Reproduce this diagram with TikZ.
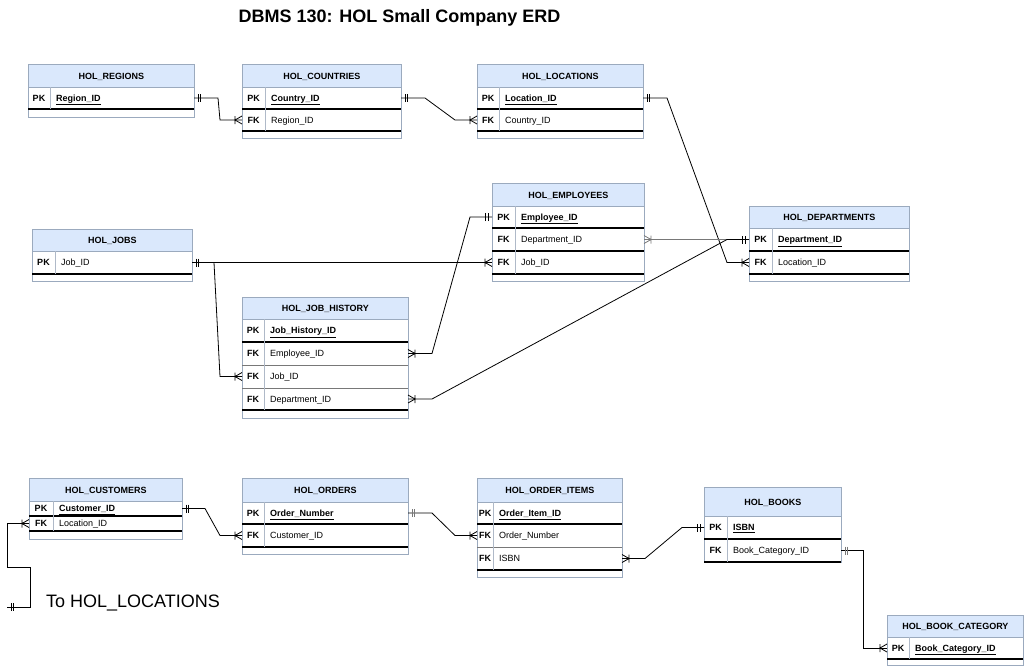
\documentclass[tikz,border=0pt]{standalone}
\usepackage{fontspec}
\setmainfont{Liberation Sans}
\usetikzlibrary{calc}
\definecolor{hdrc}{HTML}{DAE8FC}
\definecolor{bordc}{RGB}{155,170,190}
\definecolor{divc}{RGB}{175,185,200}
\definecolor{grayline}{RGB}{120,120,120}
\tikzset{
  hdr/.style={draw=bordc, fill=hdrc, line width=0.8pt, anchor=north west, inner sep=0pt, font=\bfseries\fontsize{9}{10}\selectfont},
  rowbox/.style={anchor=north west, inner sep=0pt, outer sep=0pt},
  keytext/.style={font=\bfseries\fontsize{9}{10}\selectfont, inner sep=0pt, text height=7.5pt, text depth=1pt},
  fieldtext/.style={font=\fontsize{9}{10}\selectfont, anchor=west, inner sep=0pt, text height=7.5pt, text depth=1pt},
  tborder/.style={draw=bordc, line width=0.8pt},
  sepk/.style={draw=black, line width=1.2pt},
  sepg/.style={draw=grayline, line width=0.6pt},
  divl/.style={draw=divc, line width=0.7pt},
  conn/.style={draw=black, line width=0.8pt},
  mone/.pic={\draw[line width=0.8pt] (4,-4)--(4,4) (6.5,-4)--(6.5,4);},
  mmany/.pic={\draw[line width=0.8pt] (0,-4)--(7,0)--(0,4) (7,-4)--(7,4);},
}
\newcommand\pkfield[1]{\textbf{\underline{#1}}}
\newcommand\ertab[7]{%
  \draw[tborder] (#2,#3) rectangle (#2+#4,#6);
  \node[hdr, minimum width=#4, minimum height=#5, text height=7.5pt, text depth=1pt] (#1) at (#2,#3) {#7};
}
\newcommand\errow[9]{%
  \node[rowbox, minimum width=#4, minimum height=#5] (#1) at (#2,#3) {};
  \node[keytext] at ($(#1.west)+(#6/2,0)$) {#7};
  \node[fieldtext] at ($(#1.west)+(#6+6,0)$) {#8};
  \draw[#9] (#1.south west) -- (#1.south east);
  \draw[divl] ($(#1.north west)+(#6,0)$) -- ($(#1.south west)+(#6,0)$);
}
\begin{document}
\begin{tikzpicture}[x=1pt,y=-1pt]
\useasboundingbox (0,0) rectangle (1024,670);
\fill[white] (0,0) rectangle (1024,670);

\node[font=\bfseries\fontsize{18}{20}\selectfont, anchor=base] (title) at (399.5,22.5) {DBMS 130: HOL Small Company ERD};
\node[font=\fontsize{18}{20}\selectfont, anchor=base] (tolab) at (133,607) {To HOL\_LOCATIONS};

% REGIONS
\ertab{reg}{28}{64}{166}{23}{117}{HOL\_REGIONS}
\errow{reg-pk}{28}{87}{166}{22}{22}{PK}{\pkfield{Region\_ID}}{sepk}
% COUNTRIES
\ertab{cty}{242}{64}{159}{23}{138}{HOL\_COUNTRIES}
\errow{cty-pk}{242}{87}{159}{22}{23}{PK}{\pkfield{Country\_ID}}{sepk}
\errow{cty-fk}{242}{109}{159}{22}{23}{FK}{Region\_ID}{sepk}
% LOCATIONS
\ertab{loc}{477}{64}{166}{23}{138}{HOL\_LOCATIONS}
\errow{loc-pk}{477}{87}{166}{22}{22}{PK}{\pkfield{Location\_ID}}{sepk}
\errow{loc-fk}{477}{109}{166}{22}{22}{FK}{Country\_ID}{sepk}
% JOBS
\ertab{job}{32}{229}{160}{22}{281}{HOL\_JOBS}
\errow{job-pk}{32}{251}{160}{23}{23}{PK}{Job\_ID}{sepk}
% EMPLOYEES
\ertab{emp}{492}{183}{152}{23}{281}{HOL\_EMPLOYEES}
\errow{emp-pk}{492}{206}{152}{22}{23}{PK}{\pkfield{Employee\_ID}}{sepk}
\errow{emp-dept}{492}{228}{152}{23}{23}{FK}{Department\_ID}{sepk}
\errow{emp-job}{492}{251}{152}{23}{23}{FK}{Job\_ID}{sepk}
% DEPARTMENTS
\ertab{dept}{749}{206}{160}{22}{281}{HOL\_DEPARTMENTS}
\errow{dept-pk}{749}{228}{160}{23}{23}{PK}{\pkfield{Department\_ID}}{sepk}
\errow{dept-fk}{749}{251}{160}{23}{23}{FK}{Location\_ID}{sepk}
% JOB HISTORY
\ertab{jh}{242}{297}{166}{22}{418}{HOL\_JOB\_HISTORY}
\errow{jh-pk}{242}{319}{166}{23}{22}{PK}{\pkfield{Job\_History\_ID}}{sepk}
\errow{jh-emp}{242}{342}{166}{23}{22}{FK}{Employee\_ID}{sepg}
\errow{jh-job}{242}{365}{166}{23}{22}{FK}{Job\_ID}{sepg}
\errow{jh-dept}{242}{388}{166}{22}{22}{FK}{Department\_ID}{sepk}
% CUSTOMERS
\ertab{cus}{29}{478}{153}{23}{539}{HOL\_CUSTOMERS}
\errow{cus-pk}{29}{501}{153}{15}{24}{PK}{\pkfield{Customer\_ID}}{sepk}
\errow{cus-fk}{29}{516}{153}{15}{24}{FK}{Location\_ID}{sepk}
% ORDERS
\ertab{ord}{242}{478}{166}{24}{554}{HOL\_ORDERS}
\errow{ord-pk}{242}{502}{166}{22}{22}{PK}{\pkfield{Order\_Number}}{sepk}
\errow{ord-fk}{242}{524}{166}{23}{22}{FK}{Customer\_ID}{sepk}
% ORDER ITEMS
\ertab{oi}{477}{478}{145}{24}{577}{HOL\_ORDER\_ITEMS}
\errow{oi-pk}{477}{502}{145}{22}{16}{PK}{\pkfield{Order\_Item\_ID}}{sepk}
\errow{oi-ord}{477}{524}{145}{23}{16}{FK}{Order\_Number}{sepg}
\errow{oi-isbn}{477}{547}{145}{23}{16}{FK}{ISBN}{sepk}
% BOOKS
\ertab{bk}{704}{487}{137}{29}{562}{HOL\_BOOKS}
\errow{bk-pk}{704}{516}{137}{23}{23}{PK}{\pkfield{ISBN}}{sepk}
\errow{bk-fk}{704}{539}{137}{23}{23}{FK}{Book\_Category\_ID}{sepk}
% BOOK CATEGORY
\ertab{bc}{887}{615}{136}{22}{665}{HOL\_BOOK\_CATEGORY}
\errow{bc-pk}{887}{637}{136}{22}{22}{PK}{\pkfield{Book\_Category\_ID}}{sepk}

% connectors
\draw[conn] (reg-pk.east) -- ++(24,0) -- ($(cty-fk.west)+(-22,0)$) -- (cty-fk.west);
\pic at (reg-pk.east) {mone}; \pic[rotate=180] at (cty-fk.west) {mmany};

\draw[conn] (cty-pk.east) -- ++(24,0) -- ($(loc-fk.west)+(-22,0)$) -- (loc-fk.west);
\pic at (cty-pk.east) {mone}; \pic[rotate=180] at (loc-fk.west) {mmany};

\draw[conn] (loc-pk.east) -- ++(24,0) -- ($(dept-fk.west)+(-22,0)$) -- (dept-fk.west);
\pic at (loc-pk.east) {mone}; \pic[rotate=180] at (dept-fk.west) {mmany};

\draw[conn] (job-pk.east) -- (emp-job.west);
\draw[conn] (job-pk.east) -- ++(22,0) -- ($(jh-job.west)+(-22,0)$) -- (jh-job.west);
\pic at (job-pk.east) {mone}; \pic[rotate=180] at (emp-job.west) {mmany};
\pic[rotate=180] at (jh-job.west) {mmany};

\draw[conn] (jh-emp.east) -- ++(24,0) -- ($(emp-pk.west)+(-22,0)$) -- (emp-pk.west);
\pic at (jh-emp.east) {mmany}; \pic[rotate=180] at (emp-pk.west) {mone};

\draw[conn, draw=grayline] (emp-dept.east) -- (dept-pk.west);
\pic[grayline] at (emp-dept.east) {mmany}; \pic[rotate=180] at (dept-pk.west) {mone};

\draw[conn] (jh-dept.east) -- ++(24,0) -- ($(dept-pk.west)+(-22,0)$) -- (dept-pk.west);
\pic at (jh-dept.east) {mmany};

\draw[conn] (cus-pk.east) -- ++(23,0) -- ($(ord-fk.west)+(-22,0)$) -- (ord-fk.west);
\pic at (cus-pk.east) {mone}; \pic[rotate=180] at (ord-fk.west) {mmany};

\coordinate (lochint) at (7,607);
\draw[conn] (cus-fk.west) -- ++(-22,0) -- ++(0,43.5) -- ++(23,0) |- (lochint);
\pic[rotate=180] at (cus-fk.west) {mmany}; \pic at (lochint) {mone};

\draw[conn] (ord-pk.east) -- ++(24,0) -- ($(oi-ord.west)+(-22,0)$) -- (oi-ord.west);
\pic[grayline] at (ord-pk.east) {mone}; \pic[rotate=180] at (oi-ord.west) {mmany};

\draw[conn] (oi-isbn.east) -- ++(23,0) -- ($(bk-pk.west)+(-22,0)$) -- (bk-pk.west);
\pic at (oi-isbn.east) {mmany}; \pic[rotate=180] at (bk-pk.west) {mone};

\draw[conn] (bk-fk.east) -- ++(22,0) |- (bc-pk.west);
\pic[grayline] at (bk-fk.east) {mone}; \pic[rotate=180] at (bc-pk.west) {mmany};
\end{tikzpicture}
\end{document}
